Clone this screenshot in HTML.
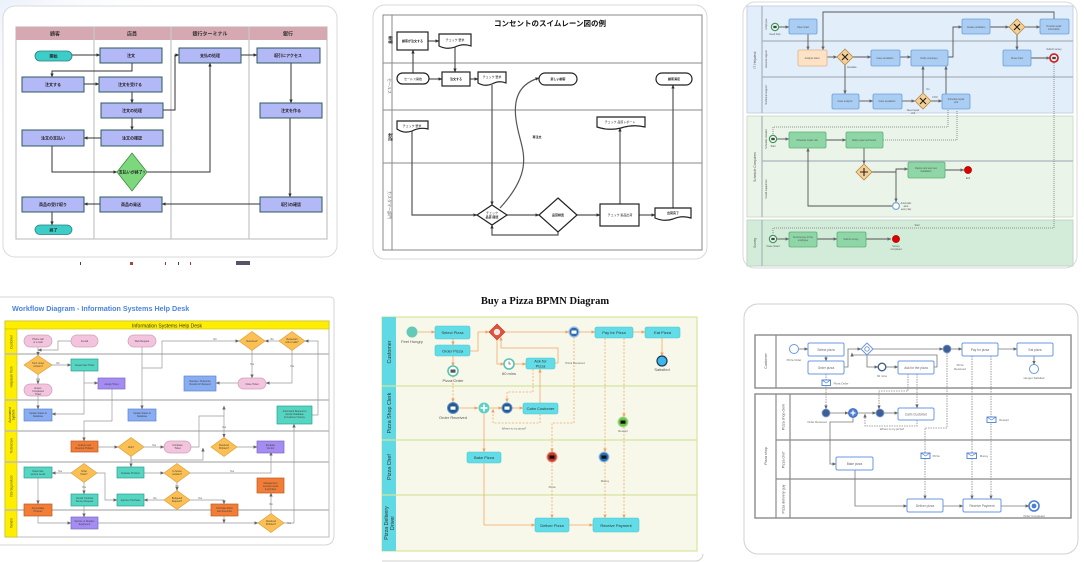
<!DOCTYPE html>
<html><head><meta charset="utf-8"><style>
html,body{margin:0;padding:0;background:#fff;width:1084px;height:562px;overflow:hidden}
svg{display:block}
text{font-family:"Liberation Sans","Noto Sans CJK JP",sans-serif}
</style></head><body>
<svg width="1084" height="562" viewBox="0 0 1084 562" xmlns="http://www.w3.org/2000/svg">
<defs>
<marker id="k" markerWidth="4" markerHeight="4" refX="3.6" refY="2" orient="auto" markerUnits="userSpaceOnUse"><path d="M0,0.3 L4,2 L0,3.7z" fill="#333"/></marker>
<marker id="g" markerWidth="4" markerHeight="4" refX="3.6" refY="2" orient="auto" markerUnits="userSpaceOnUse"><path d="M0,0.3 L4,2 L0,3.7z" fill="#666"/></marker>
<marker id="o" markerWidth="4" markerHeight="4" refX="3.6" refY="2" orient="auto" markerUnits="userSpaceOnUse"><path d="M0,0.3 L4,2 L0,3.7z" fill="#f0a060"/></marker>
<linearGradient id="bgg" x1="0" y1="0" x2="1" y2="1"><stop offset="0" stop-color="#eaf1fb"/><stop offset="0.25" stop-color="#fff" stop-opacity="0"/></linearGradient>
</defs>
<rect x="0" y="0" width="360" height="270" fill="url(#bgg)"/>

<!-- ================= PANEL 1 ================= -->
<rect x="3" y="6" width="334" height="251" rx="12" fill="#fff" stroke="#dadada" stroke-width="1"/>
<rect x="16" y="27" width="311" height="212" fill="#fff" stroke="#c8c8c8" stroke-width="1.3"/>
<rect x="16" y="27" width="311" height="13" fill="#d5a8b2"/>
<g stroke="#c8c8c8" stroke-width="1.3"><line x1="94" y1="27" x2="94" y2="239"/><line x1="171" y1="27" x2="171" y2="239"/><line x1="249" y1="27" x2="249" y2="239"/></g>
<g font-size="5" font-weight="bold" fill="#333" text-anchor="middle"><text x="55" y="35.5">顧客</text><text x="132" y="35.5">店員</text><text x="210" y="35.5">銀行ターミナル</text><text x="288" y="35.5">銀行</text></g>
<g stroke="#333" stroke-width="1" fill="none" marker-end="url(#k)">
<path d="M72,55 H100"/><path d="M132,63 V71 H52 V77"/><path d="M84,84 H99"/><path d="M132,92 V103"/>
<path d="M163,110 H175 V55 H179"/><path d="M132,118 V130"/><path d="M101,138 H84"/><path d="M52,146 V172 H117"/>
<path d="M147,172 H210 V63"/><path d="M241,55 H257"/><path d="M291,63 V103"/><path d="M290,118 V197"/>
<path d="M260,204 H162"/><path d="M100,204 H84"/><path d="M52,212 V225"/>
</g>
<g fill="#b3b8f6" stroke="#2f5a5a" stroke-width="1">
<rect x="100" y="48" width="62" height="15"/><rect x="179" y="48" width="62" height="15"/><rect x="257" y="48" width="63" height="15"/>
<rect x="22" y="77" width="62" height="15"/><rect x="99" y="77" width="63" height="15"/>
<rect x="101" y="103" width="62" height="15"/><rect x="260" y="103" width="62" height="15"/>
<rect x="22" y="130" width="62" height="16"/><rect x="101" y="130" width="62" height="16"/>
<rect x="22" y="197" width="62" height="15"/><rect x="100" y="197" width="62" height="15"/><rect x="260" y="197" width="62" height="15"/>
</g>
<rect x="35" y="51" width="37" height="10" rx="5" fill="#3ccdc8" stroke="#2a7f7f" stroke-width="0.8"/>
<rect x="35" y="225" width="37" height="9.5" rx="4.8" fill="#3ccdc8" stroke="#2a7f7f" stroke-width="0.8"/>
<path d="M132,153 L147,172 L132,191 L117,172z" fill="#7dd87d" stroke="#3e8e3e" stroke-width="0.8"/>
<g font-size="4" fill="#222" text-anchor="middle" font-weight="bold">
<text x="53.5" y="57.5">開始</text><text x="131" y="57">注文</text><text x="210" y="57">支払の処理</text><text x="288" y="57">取引にアクセス</text>
<text x="53" y="86">注文する</text><text x="130" y="86">注文を受ける</text><text x="132" y="112">注文の処理</text><text x="291" y="112">注文を作る</text>
<text x="53" y="139.5">注文の支払い</text><text x="132" y="139.5">注文の確認</text><text x="132" y="173.5">支払いが終了?</text>
<text x="53" y="206">商品の受け取り</text><text x="131" y="206">商品の発送</text><text x="291" y="206">取引の確認</text><text x="53.5" y="231.5">終了</text>
</g>
<g fill="#444"><rect x="80" y="262" width="1" height="3"/><rect x="130" y="262" width="3" height="3" fill="#a44"/><rect x="165" y="262" width="1" height="3" fill="#a33"/><rect x="178" y="262" width="1" height="3"/><rect x="190" y="262" width="1" height="3" fill="#a33"/><rect x="236" y="261" width="14" height="4" fill="#556"/></g>

<!-- ================= PANEL 2 ================= -->
<rect x="373" y="5" width="334" height="254" rx="12" fill="#fff" stroke="#d8d8d8" stroke-width="1"/>
<rect x="383" y="15" width="319" height="235" fill="#fff" stroke="#8a8a8a" stroke-width="1"/>
<g stroke="#8a8a8a" stroke-width="1"><line x1="392" y1="15" x2="392" y2="250"/><line x1="383" y1="63" x2="702" y2="63"/><line x1="383" y1="110" x2="702" y2="110"/><line x1="383" y1="163" x2="702" y2="163"/></g>
<text x="550" y="26" font-size="7.5" font-weight="bold" text-anchor="middle" fill="#111">コンセントのスイムレーン図の例</text>
<g font-size="4" text-anchor="middle">
<text transform="translate(389,40) rotate(90)" font-weight="bold" fill="#111">顧客</text>
<text transform="translate(388,86) rotate(90)" fill="#666">セールス</text>
<text transform="translate(389,137) rotate(90)" font-weight="bold" fill="#111">製造</text>
<text transform="translate(388,205) rotate(90)" fill="#666">カスタマー部門</text>
</g>
<g stroke="#555" stroke-width="1.2" fill="none" marker-end="url(#k)">
<path d="M413,73 V50"/><path d="M428,41 H439"/><path d="M455,47 V72"/><path d="M429,79 H442"/><path d="M470,79 H478"/>
<path d="M492,85 V205"/><path d="M412,130 V215 H477"/><path d="M558,232 V235 H492 V225"/>
<path d="M507,215 H539"/><path d="M577,215 H600"/><path d="M639,215 H655"/><path d="M620,204 V128"/><path d="M673,208 V85"/>
<path d="M500,208 C 535,170 522,150 518,130 C 512,105 515,85 539,78"/>
</g>
<g fill="#fff" stroke="#222" stroke-width="1.2">
<rect x="397" y="32" width="31" height="18"/>
<path d="M439,34 H471 V46 Q463,43 455,47 Q447,50 439,46z"/>
<rect x="397" y="73" width="32" height="11" rx="5.5"/>
<rect x="442" y="72" width="28" height="14"/>
<path d="M478,72 H506 V83 Q499,80 492,84 Q485,87 478,83z"/>
<rect x="539" y="73" width="38" height="12" rx="6"/>
<rect x="656" y="73" width="36" height="12" rx="6"/>
<path d="M397,121 H428 V129 Q420,127 412,131 Q404,134 397,129z"/>
<path d="M597,117 H645 V127 Q633,124 621,128 Q609,131 597,127z"/>
<path d="M492,205 L507,215 L492,225 L477,215z"/>
<path d="M558,198 L577,215 L558,232 L539,215z"/>
<rect x="600" y="204" width="39" height="22"/>
<path d="M655,208 H691 V218 Q682,215 673,219 Q664,222 655,218z"/>
</g>
<g font-size="3" fill="#222" text-anchor="middle" font-weight="bold">
<text x="412.5" y="42">顧客が注文する</text><text x="455" y="41" font-weight="normal">チェック 要求</text><text x="413" y="80" font-weight="normal">セールス開始</text><text x="456" y="80">注文する</text><text x="492" y="78" font-weight="normal">チェック 要求</text>
<text x="558" y="80">新しい顧客</text><text x="674" y="80">顧客満足</text><text x="412" y="127" font-weight="normal">チェック 要求</text><text x="620" y="123" font-weight="normal">チェック 品質レポート</text>
<text x="492" y="214" font-weight="normal">チェック</text><text x="492" y="218">品質 確認</text><text x="558" y="216">品質検査</text><text x="620" y="216" font-weight="normal">チェック 製品出荷</text><text x="673" y="214">出荷完了</text><text x="537" y="138">再注文</text>
</g>

<!-- ================= PANEL 3 ================= -->
<rect x="743" y="2" width="334" height="266" rx="12" fill="#fff" stroke="#dadada" stroke-width="1"/>
<rect x="747" y="6" width="326" height="107" fill="#e3eefb" stroke="#c4d3e6" stroke-width="1"/>
<rect x="747" y="116" width="326" height="101" fill="#ebf4e8" stroke="#cfdccb" stroke-width="1"/>
<rect x="747" y="220" width="326" height="46" fill="#d3ebd9" stroke="#c1d6c6" stroke-width="1"/>
<g stroke="#a9b3bd" stroke-width="1.2">
<line x1="762" y1="6" x2="762" y2="113"/><line x1="762" y1="41" x2="1073" y2="41"/><line x1="762" y1="77" x2="1073" y2="77"/>
<line x1="762" y1="116" x2="762" y2="217"/><line x1="762" y1="161" x2="1073" y2="161"/>
<line x1="762" y1="220" x2="762" y2="266"/>
</g>
<g font-size="3.2" fill="#555" text-anchor="middle">
<text transform="translate(756,60) rotate(-90)">IT Helpdesk</text>
<text transform="translate(756,167) rotate(-90)">Schedule Computers</text>
<text transform="translate(756,243) rotate(-90)">Survey</text>
<text transform="translate(767,24) rotate(-90)" font-size="2.5">Employee</text>
<text transform="translate(767,59) rotate(-90)" font-size="2.5">General support</text>
<text transform="translate(767,95) rotate(-90)" font-size="2.5">Technical support</text>
<text transform="translate(767,139) rotate(-90)" font-size="2.5">Schedule installer</text>
<text transform="translate(767,189) rotate(-90)" font-size="2.5">Install equipment</text>
</g>
<g stroke="#555" stroke-width="0.9" fill="none" marker-end="url(#g)">
<path d="M779,27 H789"/><path d="M808,34 V50"/><path d="M1054,19 V12 H823 V50"/>
<path d="M827,57 H837"/><path d="M853,57 H871"/><path d="M845,65 V94"/><path d="M900,57 H911"/>
<path d="M948,57 H953 V27 H962"/><path d="M990,27 H1009"/><path d="M1025,27 H1040"/><path d="M1017,35 V50"/><path d="M1031,58 H1050"/>
<path d="M859,101 H873"/><path d="M902,101 H915"/><path d="M931,101 H942"/><path d="M923,93 V66"/><path d="M946,94 V66"/>
<path d="M777,139 H789"/><path d="M826,140 H846"/><path d="M864,148 V164"/><path d="M872,172 H896 V169 H908"/><path d="M896,172 V202"/>
<path d="M892,206 H808 V148"/><path d="M945,170 H964"/>
<path d="M777,239 H789"/><path d="M817,239 H837"/><path d="M866,239 H891"/>
</g>
<g stroke="#777" stroke-width="0.8" fill="none" stroke-dasharray="1,1">
<path d="M773,134 V127 H948 V110"/><path d="M883,140 H957 V110"/><path d="M1054,63 V228 H773 V234"/>
</g>
<g fill="#a9cdf3" stroke="#6b9fd6" stroke-width="0.8">
<rect x="789" y="19" width="28" height="15" rx="1.5"/><rect x="871" y="50" width="29" height="16" rx="1.5"/><rect x="911" y="50" width="37" height="16" rx="1.5"/>
<rect x="962" y="19" width="28" height="15" rx="1.5"/><rect x="1040" y="19" width="29" height="15" rx="1.5"/><rect x="1003" y="50" width="28" height="16" rx="1.5"/>
<rect x="832" y="94" width="27" height="15" rx="1.5"/><rect x="873" y="94" width="29" height="15" rx="1.5"/><rect x="942" y="94" width="28" height="15" rx="1.5"/>
</g>
<rect x="798" y="50" width="29" height="16" rx="1.5" fill="#fde2c6" stroke="#e2b386" stroke-width="0.8"/>
<g fill="#8fd6a6" stroke="#5cae78" stroke-width="0.8">
<rect x="789" y="132" width="37" height="16" rx="1.5"/><rect x="846" y="132" width="37" height="16" rx="1.5"/><rect x="908" y="162" width="37" height="16" rx="1.5"/>
<rect x="789" y="232" width="28" height="15" rx="1.5"/><rect x="837" y="232" width="29" height="15" rx="1.5"/>
</g>
<g fill="#f6cf94" stroke="#b58a4a" stroke-width="0.8">
<path d="M845,49 L853,57 L845,65 L837,57z"/><path d="M1017,19 L1025,27 L1017,35 L1009,27z"/><path d="M923,93 L931,101 L923,109 L915,101z"/><path d="M864,164 L872,172 L864,180 L856,172z"/>
</g>
<g stroke="#222" stroke-width="1.1"><path d="M842,54 l6,6 M848,54 l-6,6 M1014,24 l6,6 M1020,24 l-6,6 M920,98 l6,6 M926,98 l-6,6"/><path d="M864,168 v8 M860,172 h8"/></g>
<g stroke-width="1.2">
<circle cx="775" cy="27" r="3.6" fill="#fff" stroke="#3c9b5a"/><circle cx="773" cy="139" r="3.6" fill="#fff" stroke="#3c9b5a"/><circle cx="773" cy="239" r="3.6" fill="#fff" stroke="#3c9b5a"/>
<circle cx="1054" cy="58" r="4" fill="#fff" stroke="#c92a2a" stroke-width="1.8"/>
<circle cx="968" cy="170" r="3.6" fill="#d00" stroke="#900" stroke-width="0.6"/><circle cx="896" cy="239" r="3.6" fill="#d00" stroke="#900" stroke-width="0.6"/>
<circle cx="896" cy="206" r="3.4" fill="#fff" stroke="#7aa7d8"/>
</g>
<g fill="#444"><rect x="773.3" y="25.8" width="3.4" height="2.4"/><rect x="771.3" y="137.8" width="3.4" height="2.4"/><rect x="771.3" y="237.8" width="3.4" height="2.4"/><rect x="1052.2" y="56.8" width="3.6" height="2.4"/></g>
<g font-size="2.4" fill="#555" text-anchor="middle">
<text x="775" y="35">Need help</text><text x="803" y="28">Open ticket</text><text x="812" y="59">Analyze ticket</text><text x="885" y="59">Case escalation</text><text x="929" y="59">Notify employee</text>
<text x="976" y="28">Create escalation</text><text x="1054" y="27">Provide repair</text><text x="1054" y="30">information</text><text x="1017" y="59">Close ticket</text><text x="1054" y="50">Submit survey</text>
<text x="845" y="102">Case analysis</text><text x="887" y="102">Case escalation</text><text x="956" y="100">Schedule repair</text><text x="956" y="103">visit</text><text x="852" y="68">Escalate</text>
<text x="913" y="111">Need repair</text><text x="913" y="114">visit</text><text x="935" y="98">FOO</text><text x="928" y="90">No</text>
<text x="773" y="147">Start</text><text x="807" y="141">Schedule repair visit</text><text x="864" y="141">Notify repair technician</text><text x="926" y="169">Deliver and test new</text><text x="926" y="172">installation</text>
<text x="968" y="179">End</text><text x="906" y="204">Automatic</text><text x="906" y="207">alert</text><text x="906" y="210">every day</text>
<text x="773" y="247">Case closed</text><text x="803" y="238">Send survey to the</text><text x="803" y="241">employee</text><text x="851" y="240">Submit survey</text><text x="896" y="247">Survey</text><text x="896" y="250">completed</text><text x="917" y="226">Start</text>
</g>

<!-- ================= PANEL 4 ================= -->
<path d="M-2,297 H330 Q334,297 334,301 V535 Q334,545 324,545 H-2" fill="#fff" stroke="#d6d6d6" stroke-width="1"/>
<text x="12" y="311" font-size="7.2" font-weight="bold" fill="#4a84e0">Workflow Diagram - Information Systems Help Desk</text>
<rect x="5" y="321" width="324" height="216" fill="#fff" stroke="#bdbdbd" stroke-width="1"/>
<rect x="5" y="321" width="324" height="8" fill="#ffee00" stroke="#c8c000" stroke-width="0.6"/>
<rect x="5" y="329" width="12" height="208" fill="#ffee00" stroke="#c8c000" stroke-width="0.6"/>
<text x="167" y="327.3" font-size="5" fill="#333" text-anchor="middle">Information Systems Help Desk</text>
<g stroke="#bdbdbd" stroke-width="1.6"><line x1="5" y1="354" x2="329" y2="354"/><line x1="5" y1="400" x2="329" y2="400"/><line x1="5" y1="431" x2="329" y2="431"/><line x1="5" y1="462" x2="329" y2="462"/><line x1="5" y1="510" x2="329" y2="510"/></g>
<g font-size="3.2" fill="#444" text-anchor="middle">
<text transform="translate(12.5,342) rotate(-90)">Customer</text><text transform="translate(12.5,377) rotate(-90)">Helpdesk Tech</text>
<text transform="translate(11,415) rotate(-90)">Automated</text><text transform="translate(14.5,415) rotate(-90)">System</text>
<text transform="translate(12.5,446) rotate(-90)">Technician</text><text transform="translate(12.5,486) rotate(-90)">ISS Supervisor</text><text transform="translate(12.5,523) rotate(-90)">Vendor</text>
</g>
<g stroke="#9a9a9a" stroke-width="0.7" fill="none" marker-end="url(#g)">
<path d="M38,347 V355.5"/><path d="M71,341 H58 V350 H38"/><path d="M52,365 H71"/><path d="M38,374.5 V384"/><path d="M38,396 V409"/>
<path d="M84,371 V414 H52"/><path d="M84,383 H98"/><path d="M112,389 V421 H84 V441"/><path d="M142,347 V409"/>
<path d="M142,368 H162 V341 H239"/><path d="M252,350.5 V378"/><path d="M279,341 H265"/><path d="M292,350.5 V383 H266"/><path d="M238,383 H216"/>
<path d="M312,415 H318 V341 H305"/>
<path d="M98,447 H118"/><path d="M144,447 H164"/><path d="M191,447 H199 V416 H224 V437.5"/><path d="M224,416 V406"/><path d="M237,447 H257"/>
<path d="M131,456.5 V467"/><path d="M131,456.5 V460 H203 V448"/>
<path d="M144,473 H164"/><path d="M190,473 H271 V452"/><path d="M71,473 H52"/><path d="M84,482.5 V494"/><path d="M97,473 H105 V500 H117"/>
<path d="M177,482.5 V490.5"/><path d="M164,500 H144"/><path d="M190,500 H224 V504"/>
<path d="M38,478 V504"/><path d="M38,516 V523 H71"/><path d="M84,506 V517"/><path d="M98,523 H258"/><path d="M224,516 V523"/>
<path d="M271,514 V493"/><path d="M284,523 H294 V424"/>
</g>
<g fill="#f4c3dd" stroke="#c9a0b8" stroke-width="0.7">
<rect x="24" y="335" width="28" height="12" rx="6"/><rect x="71" y="335" width="27" height="12" rx="6"/><rect x="128" y="335" width="28" height="12" rx="6"/>
<rect x="24" y="384" width="28" height="12" rx="6"/><rect x="238" y="378" width="28" height="11" rx="5.5"/><rect x="164" y="441" width="27" height="12" rx="6"/>
</g>
<g fill="#fbbf52" stroke="#d9a040" stroke-width="0.7">
<path d="M252,331.5 L265,341 L252,350.5 L239,341z"/><path d="M292,331.5 L305,341 L292,350.5 L279,341z"/><path d="M38,355.5 L52,365 L38,374.5 L24,365z"/>
<path d="M131,437.5 L144,447 L131,456.5 L118,447z"/><path d="M224,437.5 L237,447 L224,456.5 L211,447z"/>
<path d="M84,463.5 L97,473 L84,482.5 L71,473z"/><path d="M177,463.5 L190,473 L177,482.5 L164,473z"/><path d="M177,490.5 L190,500 L177,509.5 L164,500z"/>
<path d="M271,513.5 L284,523 L271,532.5 L258,523z"/>
</g>
<g fill="#55d6c2" stroke="#2e9f8e" stroke-width="0.7">
<rect x="71" y="359" width="27" height="12"/><rect x="277" y="406" width="35" height="18"/><rect x="24" y="467" width="28" height="11"/>
<rect x="117" y="467" width="27" height="11"/><rect x="71" y="494" width="27" height="12"/><rect x="117" y="494" width="27" height="12"/>
</g>
<g fill="#a48cf2" stroke="#7a68c0" stroke-width="0.7"><rect x="98" y="378" width="27" height="11"/><rect x="257" y="441" width="27" height="12"/><rect x="71" y="517" width="27" height="12"/></g>
<g fill="#88adf2" stroke="#5f84c8" stroke-width="0.7"><rect x="184" y="376" width="32" height="15"/><rect x="24" y="409" width="28" height="12"/><rect x="128" y="409" width="28" height="12"/></g>
<g fill="#f27d36" stroke="#c05a20" stroke-width="0.7"><rect x="71" y="441" width="27" height="11"/><rect x="257" y="478" width="27" height="15"/><rect x="24" y="504" width="28" height="12"/><rect x="211" y="504" width="27" height="12"/></g>
<g font-size="2.4" fill="#444" text-anchor="middle">
<text x="38" y="340">Phone call</text><text x="38" y="343">or e-mail</text><text x="84.5" y="342">E-mail</text><text x="142" y="342">Web Request</text>
<text x="252" y="342">Resolved?</text><text x="292" y="340">Requestor</text><text x="292" y="343">still e-mails?</text>
<text x="38" y="364">Tech. know</text><text x="38" y="367">solution?</text><text x="84.5" y="366">Create New Ticket</text><text x="38" y="389">Enters</text><text x="38" y="392">Completed</text><text x="38" y="395">Ticket</text>
<text x="111.5" y="385">Assign Ticket</text><text x="200" y="382">Resolve / Subscribe</text><text x="200" y="385">Results for Request</text><text x="252" y="385">Close Ticket</text>
<text x="38" y="414">Update Status in</text><text x="38" y="417">Database</text><text x="142" y="414">Update Status in</text><text x="142" y="417">Database</text>
<text x="294.5" y="412">Automated Request to</text><text x="294.5" y="415">Vendor Database</text><text x="294.5" y="418">&amp; Customer Survey</text>
<text x="84.5" y="446">Analyze and</text><text x="84.5" y="449">Resolve Problem</text><text x="131" y="448">Able?</text><text x="177.5" y="446">Complete</text><text x="177.5" y="449">Ticket</text>
<text x="224" y="446">Resolved</text><text x="224" y="449">Problem?</text><text x="270.5" y="446">Escalate</text><text x="270.5" y="449">Vendor</text>
<text x="38" y="472">Determine</text><text x="38" y="475">service needs</text><text x="84" y="472">Order</text><text x="84" y="475">Parts?</text><text x="130.5" y="474">Evaluate Problem</text>
<text x="177" y="472">In-house</text><text x="177" y="475">solution?</text><text x="84.5" y="499">Vendor Contract</text><text x="84.5" y="502">Service Request</text>
<text x="130.5" y="501">Approve Purchase</text><text x="177" y="499">Budgeted</text><text x="177" y="502">Request?</text>
<text x="270.5" y="484">Management</text><text x="270.5" y="487">reviews needs</text><text x="270.5" y="490">&amp; priorities</text>
<text x="38" y="509">Accumulate</text><text x="38" y="512">Process</text><text x="224.5" y="509">Purchase Parts</text><text x="224.5" y="512">and Assemble</text>
<text x="84.5" y="522">Service or Replace</text><text x="84.5" y="525">Equipment</text><text x="271" y="522">Resolved</text><text x="271" y="525">Problem?</text>
<text x="58" y="364">No</text><text x="38" y="380">Yes</text><text x="215" y="340">No</text><text x="252" y="365">Yes</text><text x="272" y="340">No</text><text x="292" y="367">Yes</text>
<text x="154" y="446">Yes</text><text x="224" y="428">Yes</text><text x="60" y="472">Yes</text><text x="84" y="488">Yes</text><text x="232" y="472">Yes</text><text x="155" y="499">No</text><text x="200" y="499">Yes</text><text x="289" y="524">Yes</text><text x="271" y="505">No</text><text x="177" y="487">No</text>
</g>

<!-- ================= PANEL 5 ================= -->
<text x="545" y="304" font-size="10.5" font-weight="bold" fill="#111" text-anchor="middle" style="font-family:'Liberation Serif',serif">Buy a Pizza BPMN Diagram</text>
<path d="M382,561 H695 Q702,561 703,554" fill="none" stroke="#d2d2d2" stroke-width="1"/>
<rect x="382" y="317" width="315" height="234" fill="#f7f8ea" stroke="#d9e59a" stroke-width="1.2"/>
<rect x="382" y="317" width="14" height="234" fill="#5fd9e4"/>
<g stroke="#d6e39e" stroke-width="1.3"><line x1="382" y1="386" x2="697" y2="386"/><line x1="382" y1="440" x2="697" y2="440"/><line x1="382" y1="495" x2="697" y2="495"/></g>
<g font-size="5.3" fill="#333" text-anchor="middle">
<text transform="translate(391,352) rotate(-90)">Customer</text><text transform="translate(391,413) rotate(-90)">Pizza Shop Clerk</text>
<text transform="translate(391,467) rotate(-90)">Pizza Chef</text><text transform="translate(388,523) rotate(-90)">Pizza Delivery</text><text transform="translate(394,523) rotate(-90)">Driver</text>
</g>
<g stroke="#f2a96a" stroke-width="0.8" fill="none" marker-end="url(#o)">
<path d="M418,332 H435"/><path d="M453,339 V345"/><path d="M470,351 H478 V332 H489"/><path d="M505,332 H569"/><path d="M579,332 H595"/><path d="M633,332 H645"/>
<path d="M662,338 V356"/><path d="M497,340 V364 H504"/><path d="M514,364 H526"/><path d="M555,363 H558 V348 H501 V337"/><path d="M453,356 V366"/>
<path d="M459,408 H478"/><path d="M490,408 H502"/><path d="M512,408 H523"/><path d="M540,403 V369"/>
<path d="M484,414 V452"/><path d="M484,463 V525 H535"/><path d="M569,525 H593"/>
</g>
<g stroke="#f2a96a" stroke-width="0.8" fill="none" stroke-dasharray="2,1.5" marker-end="url(#o)">
<path d="M453,376 V402"/><path d="M533,369 V392 H507 V402"/><path d="M540,414 V423 H493 V409"/>
<path d="M574,337 V423 H552 V452"/><path d="M552,462 V518"/><path d="M605,338 V452"/><path d="M605,462 V518"/><path d="M624,338 V417"/><path d="M624,427 V518"/>
</g>
<g fill="#62dde8" stroke="#48c6d2" stroke-width="0.6">
<rect x="435" y="326" width="35" height="13" rx="2"/><rect x="435" y="345" width="35" height="11" rx="2"/><rect x="595" y="327" width="38" height="11" rx="2"/><rect x="645" y="327" width="35" height="11" rx="2"/>
<rect x="526" y="358" width="29" height="11" rx="2"/><rect x="523" y="403" width="35" height="11" rx="2"/><rect x="467" y="452" width="34" height="11" rx="2"/>
<rect x="535" y="518" width="34" height="14" rx="2"/><rect x="593" y="518" width="46" height="14" rx="2"/>
</g>
<circle cx="412" cy="332" r="5.5" fill="#64c9b6"/>
<path d="M497,324 L505,332 L497,340 L489,332z" fill="#e5503a" stroke="#b63a28" stroke-width="0.6"/><circle cx="497" cy="332" r="2.8" fill="#e8e8e8" stroke="#fff" stroke-width="0.6"/>
<circle cx="574" cy="332" r="5" fill="#2f6eae" stroke="#9ec4ec" stroke-width="1.2"/>
<circle cx="662" cy="361" r="5" fill="#3fb6e8" stroke="#1a3a5a" stroke-width="1.2"/>
<circle cx="509" cy="364" r="5" fill="#fff" stroke="#56c4b0" stroke-width="1.6"/><path d="M509,361.5 V364 H511" stroke="#333" stroke-width="0.6" fill="none"/>
<circle cx="453" cy="371" r="5" fill="#fff" stroke="#56c4b0" stroke-width="1.6"/>
<circle cx="453" cy="408" r="5.5" fill="#235a94" stroke="#5d8fc5" stroke-width="1"/>
<circle cx="484" cy="408" r="5.5" fill="#5fd0c4"/><path d="M484,404.5 V411.5 M480.5,408 H487.5" stroke="#fff" stroke-width="1.6"/>
<circle cx="507" cy="408" r="5" fill="#235a94" stroke="#5d8fc5" stroke-width="1"/>
<circle cx="623" cy="422" r="5" fill="#6cc24a" stroke="#a6dd8f" stroke-width="1"/>
<circle cx="552" cy="457" r="5" fill="#c0392b" stroke="#e58a80" stroke-width="1"/>
<circle cx="604" cy="457" r="5" fill="#2f6eae" stroke="#9ec4ec" stroke-width="1"/>
<g fill="#fff"><rect x="571.5" y="330.5" width="5" height="3.2"/><rect x="450.5" y="369.5" width="5" height="3.2" fill="#555"/><rect x="450.5" y="406.5" width="5" height="3.2"/><rect x="504.5" y="406.5" width="5" height="3.2"/></g>
<g fill="#111"><rect x="620.5" y="420.5" width="5" height="3.2"/><rect x="549.5" y="455.5" width="5" height="3.2"/><rect x="601.5" y="455.5" width="5" height="3.2"/></g>
<g font-size="4" fill="#333" text-anchor="middle">
<text x="452.5" y="334">Select Pizza</text><text x="452.5" y="352.5">Order Pizza</text><text x="614" y="334">Pay for Pizza</text><text x="662.5" y="334">Eat Pizza</text>
<text x="540.5" y="362.5">Ask for</text><text x="540.5" y="367.5">Pizza</text><text x="540.5" y="410">Calm Customer</text><text x="484" y="459">Bake Pizza</text>
<text x="552" y="527">Deliver Pizza</text><text x="616" y="527">Receive Payment</text>
<text x="412" y="343" fill="#555">Feel Hungry</text><text x="509" y="375" fill="#555">60 mins</text><text x="453" y="382" fill="#555">Pizza Order</text>
<text x="453" y="419" fill="#555">Order Received</text><text x="662" y="371" fill="#555">Satisfied</text>
</g>
<g font-size="2.8" fill="#666" text-anchor="middle">
<text x="575" y="364">Pizza Received</text><text x="514" y="429.5">Where is my pizza?</text><text x="623" y="432">Receipt</text><text x="552" y="488">Pizza</text><text x="605" y="482">Money</text>
</g>

<!-- ================= PANEL 6 ================= -->
<rect x="744" y="304" width="334" height="250" rx="14" fill="#fff" stroke="#d0d0d0" stroke-width="1"/>
<rect x="755" y="335" width="316" height="53" fill="#fff" stroke="#8a8a8a" stroke-width="1.4"/>
<rect x="755" y="394" width="316" height="124" fill="#fff" stroke="#8a8a8a" stroke-width="1.4"/>
<g stroke="#8a8a8a" stroke-width="1.2"><line x1="776" y1="335" x2="776" y2="388"/><line x1="776" y1="394" x2="776" y2="518"/><line x1="790" y1="394" x2="790" y2="518"/><line x1="776" y1="440" x2="1071" y2="440"/><line x1="776" y1="479" x2="1071" y2="479"/></g>
<g font-size="3.6" fill="#555" text-anchor="middle">
<text transform="translate(767,361) rotate(-90)">Customer</text><text transform="translate(767,456) rotate(-90)">Pizza shop</text>
<text transform="translate(784.5,417) rotate(-90)">Pizza shop clerk</text><text transform="translate(784.5,460) rotate(-90)">Pizza chef</text><text transform="translate(784.5,499) rotate(-90)">Pizza delivery guy</text>
</g>
<g stroke="#777" stroke-width="0.8" fill="none" marker-end="url(#g)">
<path d="M799,349 H808"/><path d="M826,356 V361"/><path d="M844,367 H848 V349 H861"/><path d="M873,349 H943"/><path d="M951,349 H962"/><path d="M998,349 H1017"/>
<path d="M1034,356 V364.5"/><path d="M867,355 V367 H878"/><path d="M886,367 H898"/><path d="M934,367 H937 V355 H852 V353"/>
<path d="M830,413 H848.5"/><path d="M857.5,413 H876"/><path d="M884,413 H898"/>
<path d="M853,417.5 V422 H830 V464 H836"/><path d="M855,470 V506 H907"/><path d="M943,506 H963"/><path d="M1001,506 H1029"/>
</g>
<g stroke="#888" stroke-width="0.8" fill="none" stroke-dasharray="1.5,1" marker-end="url(#g)">
<path d="M826,374 V409"/><path d="M908,374 V391 H879 V409"/><path d="M917,374 V408"/><path d="M917,420 V426 H865 V414"/>
<path d="M947,353 V428 H925 V499"/><path d="M972,356 V499"/><path d="M991,356 V499"/>
</g>
<g fill="#fff" stroke="#6b97e6" stroke-width="1">
<rect x="808" y="343" width="36" height="13" rx="1.5"/><rect x="808" y="361" width="36" height="13" rx="1.5"/><rect x="962" y="343" width="36" height="13" rx="1.5"/><rect x="1017" y="343" width="36" height="13" rx="1.5"/>
<rect x="898" y="361" width="36" height="13" rx="1.5"/><rect x="898" y="408" width="36" height="12" rx="1.5"/><rect x="836" y="457" width="37" height="13" rx="1.5"/>
<rect x="907" y="499" width="36" height="13" rx="1.5"/><rect x="963" y="499" width="38" height="13" rx="1.5"/>
<path d="M867,343 L873,349 L867,355 L861,349z"/>
<circle cx="794" cy="349" r="4.5"/><circle cx="1034" cy="369" r="4.5"/><circle cx="882" cy="367" r="3.8" stroke="#3f5f8f" stroke-width="1.4"/>
</g>
<circle cx="867" cy="349" r="2.2" fill="none" stroke="#4a6fb0" stroke-width="0.7"/>
<g fill="#3d5f94" stroke="#7aa0dc" stroke-width="0.8"><circle cx="947" cy="349" r="4"/><circle cx="826" cy="413" r="4"/><circle cx="880" cy="413" r="4"/></g>
<circle cx="853" cy="413" r="4.5" fill="#4a7fd6" stroke="#3a6ac0" stroke-width="0.8"/><path d="M853,410.5 V415.5 M850.5,413 H855.5" stroke="#fff" stroke-width="1.3"/>
<circle cx="1034" cy="506" r="5" fill="#fff" stroke="#4a7fd6" stroke-width="1.6"/><circle cx="1034" cy="506" r="2.4" fill="#4a7fd6"/>
<g fill="#fff" stroke="#4a7fd6" stroke-width="0.9">
<rect x="822" y="380" width="8.5" height="5.5"/><rect x="987" y="417" width="9" height="5.5"/><rect x="921" y="453" width="9" height="5.5"/><rect x="967" y="453" width="9.5" height="5.5"/>
</g>
<path d="M822,380 L826.3,383 L830.5,380 M987,417 L991.5,420 L996,417 M921,453 L925.5,456 L930,453 M967,453 L971.7,456 L976.5,453" fill="none" stroke="#4a7fd6" stroke-width="0.7"/>
<g font-size="3.2" fill="#666" text-anchor="middle">
<text x="826" y="351">Select pizza</text><text x="826" y="369">Order pizza</text><text x="980" y="351">Pay for pizza</text><text x="1035" y="351">Eat pizza</text>
<text x="916" y="369">Ask for the pizza</text><text x="916" y="415.5">Calm Customer</text><text x="854.5" y="465">Bake pizza</text><text x="925" y="507">Deliver pizza</text><text x="982" y="507">Receive Payment</text>
</g>
<g font-size="2.8" fill="#666" text-anchor="middle">
<text x="794" y="361">Pizza Order</text><text x="1034" y="379">Hunger Satisfied</text><text x="882" y="377">60 mins</text><text x="960" y="366">Pizza</text><text x="960" y="370">Received</text>
<text x="841" y="384.5">Pizza Order</text><text x="817" y="423">Order Received</text><text x="892" y="430">Where is my pizza?</text><text x="1004" y="421">Receipt</text>
<text x="936" y="457">Pizza</text><text x="984" y="457">Money</text><text x="1034" y="517">Order Completed</text>
</g>
</svg>
</body></html>
